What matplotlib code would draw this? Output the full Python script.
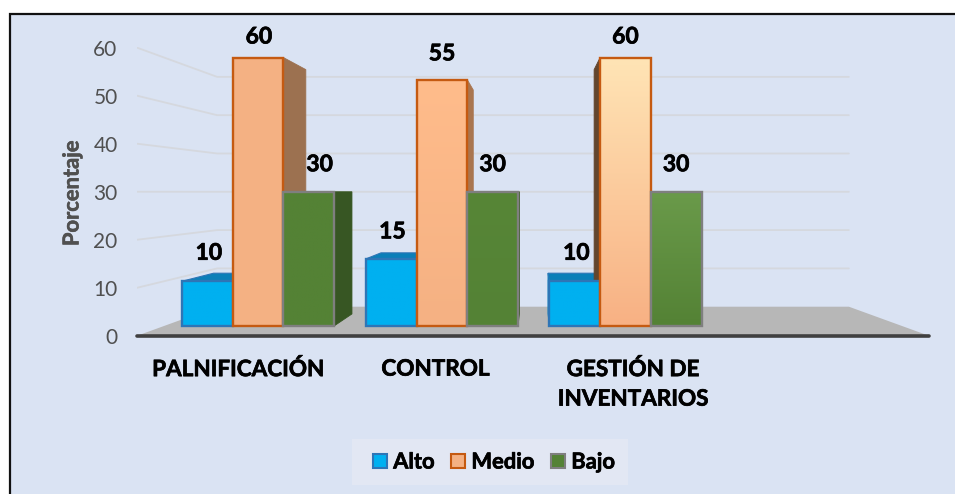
import numpy as np
import matplotlib
matplotlib.use("Agg")
import matplotlib.pyplot as plt
from matplotlib.patches import Polygon, Patch, Rectangle
from matplotlib.colors import LinearSegmentedColormap
from matplotlib.patheffects import withStroke
from matplotlib.transforms import ScaledTranslation

categories = ["PALNIFICACIÓN", "CONTROL", "GESTIÓN DE\nINVENTARIOS"]
series_names = ["Alto", "Medio", "Bajo"]
alto = [10, 15, 10]
medio = [60, 55, 60]
bajo = [30, 30, 30]
y_ticks = [0, 10, 20, 30, 40, 50, 60]

plt.rcParams["font.family"] = ["Lato", "DejaVu Sans"]

W, H = 955, 494
BG = "#DAE3F3"
fig = plt.figure(figsize=(W / 100, H / 100), dpi=100, facecolor="white")
black_fx = [withStroke(linewidth=0.5, foreground="black")]
grey_fx = [withStroke(linewidth=0.4, foreground="#505050")]

# chart panel and its black top/left frame (right and bottom run off the image)
fig.patches.append(Rectangle((9.5 / W, -0.1), 1, 1.1 - 14.5 / H, transform=fig.transFigure,
                             facecolor=BG, edgecolor="#111111", linewidth=1.6, zorder=-5))

# axes: x in pixel-like units, y is the value on the front wall edge
ax = fig.add_axes([137 / W, 1 - 335 / H, (930 - 137) / W, (335 - 47) / H])
ax.patch.set_alpha(0)
for s in ax.spines.values():
    s.set_visible(False)
ax.set_xlim(137, 930)
ax.set_ylim(0, 60)

VX, VY = 533, 192      # vanishing point
BASE, UNIT = 326, 4.475
DEPTH = 0.09


def proj(x, v, t=0.0):
    """Perspective projection of a plane point to axes data."""
    k = 1 - t
    px = VX + (x - VX) * k
    py = VY + (BASE - UNIT * v - VY) * k
    return px, (335 - py) / 4.8


# floor
LEFT, RIGHT = 164, 902
WALL_T = 0.144
FRONT_T = -0.073
ax.add_patch(Polygon([proj(LEFT, 0, WALL_T), proj(RIGHT, 0, WALL_T),
                      proj(RIGHT, 0, FRONT_T), proj(LEFT, 0, FRONT_T)],
                     closed=True, facecolor="#B7B7B7", edgecolor="none", zorder=1))
# grid on walls
for v in y_ticks[1:]:
    pts = [proj(LEFT, v, FRONT_T), proj(LEFT, v, WALL_T), proj(RIGHT, v, WALL_T)]
    ax.plot(*zip(*pts), color="#D5D8DE", lw=1.3, zorder=1, solid_capstyle="round")
# front floor edge
ax.plot(*zip(proj(LEFT, 0, FRONT_T), proj(RIGHT, 0, FRONT_T)), color="#404040", lw=2.6,
        zorder=6, clip_on=False, solid_capstyle="round")

bar_w = 50.7
centers = [258, 442, 625.5]
offsets = [-bar_w, 0, bar_w]
values = [alto, medio, bajo]
edge = ["#2E75B6", "#C55A11", "#7F7F7F"]
top_col = ["#0B7FB8", "#C55A11", "#4A6E2E"]
side_col = [["#0B7FB8"] * 3, ["#9C7150", "#A9754F", "#63462E"], ["#375623"] * 3]
grad = [
    [("#00B0F0", "#00B0F0")] * 3,
    [("#F4B183", "#F4B183"), ("#FFBC8B", "#F5B183"), ("#FFE4B5", "#F8B184")],
    [("#548235", "#548235"), ("#578637", "#548235"), ("#6A9A4A", "#548235")],
]
label_off = [[(1.5, 28), (1, 27), (1.5, 28)],
             [(1, 20.5), (0, 26), (0, 20.5)],
             [(11, 27), (0, 27), (0, 27)]]

# back parts first
for i in [2, 0, 1]:
    for g, c in enumerate(centers):
        v = values[i][g]
        x0 = c + offsets[i] - bar_w / 2
        x1 = x0 + bar_w
        xs = x1 if x1 < VX else x0
        ax.add_patch(Polygon([proj(xs, 0), proj(xs, v), proj(xs, v, DEPTH), proj(xs, 0, DEPTH)],
                             closed=True, facecolor=side_col[i][g], edgecolor=side_col[i][g],
                             linewidth=0.6, zorder=3))
        if v < 30:
            ax.add_patch(Polygon([proj(x0, v), proj(x1, v), proj(x1, v, DEPTH), proj(x0, v, DEPTH)],
                                 closed=True, facecolor=top_col[i], edgecolor=edge[i],
                                 linewidth=0.8, zorder=3))

# front faces
for i in [0, 2, 1]:
    for g, c in enumerate(centers):
        v = values[i][g]
        x0 = c + offsets[i] - bar_w / 2
        x1 = x0 + bar_w
        (xa, ya), (xb, yb) = proj(x0, 0), proj(x1, v)
        cm = LinearSegmentedColormap.from_list("g", [grad[i][g][1], grad[i][g][0]])
        ax.imshow(np.linspace(1, 0, 64).reshape(-1, 1), cmap=cm, vmin=0, vmax=1,
                  extent=(xa, xb, ya, yb), aspect="auto", zorder=4 + 0.1 * i,
                  interpolation="bilinear")
        ax.add_patch(Rectangle((xa, ya), xb - xa, yb - ya, facecolor="none", edgecolor=edge[i],
                               linewidth=1.7, zorder=4.05 + 0.1 * i))
        dx, dy = label_off[i][g]
        ax.annotate(str(v), xy=((xa + xb) / 2, yb), xytext=(dx, dy), textcoords="offset pixels",
                    ha="center", va="center", fontsize=16.5, fontweight="bold",
                    color="black", zorder=8, annotation_clip=False, path_effects=black_fx)

ax.set_xlim(137, 930)
ax.set_ylim(0, 60)
ax.set_yticks(y_ticks)
ax.tick_params(axis="y", length=0, pad=14, labelsize=15, labelcolor="#505050")
shift = ScaledTranslation(0, -1 / 100, fig.dpi_scale_trans)
for lab in ax.get_yticklabels():
    lab.set_transform(lab.get_transform() + shift)
ax.set_xticks([238, 435.5, 633])
ax.set_xticklabels(categories, fontsize=16.2, fontweight="bold", color="black", linespacing=1.5,
                   path_effects=black_fx)
ax.tick_params(axis="x", length=0, pad=17)
fig.text(72 / W, 1 - 193 / H, "Porcentaje", rotation=90, ha="center", va="center",
         fontsize=15.8, fontweight="bold", color="#505050", path_effects=grey_fx)

handles = [Patch(facecolor=grad[i][0][0], edgecolor=edge[i], linewidth=1.5, label=n)
           for i, n in enumerate(series_names)]
fig.patches.append(Rectangle((352 / W, 1 - 485 / H), 276 / W, 46 / H, transform=fig.transFigure,
                             facecolor="#E2E7F3", edgecolor="none", zorder=-4))
leg = fig.legend(handles=handles, loc="center", bbox_to_anchor=(494 / W, 1 - 462 / H), ncol=3,
                 frameon=False, prop={"size": 15.8, "weight": "bold"}, handlelength=0.62,
                 handleheight=0.62, handletextpad=0.3, columnspacing=0.75)
for t in leg.get_texts():
    t.set_path_effects(black_fx)

fig.savefig("out.png", dpi=100, facecolor="white")
